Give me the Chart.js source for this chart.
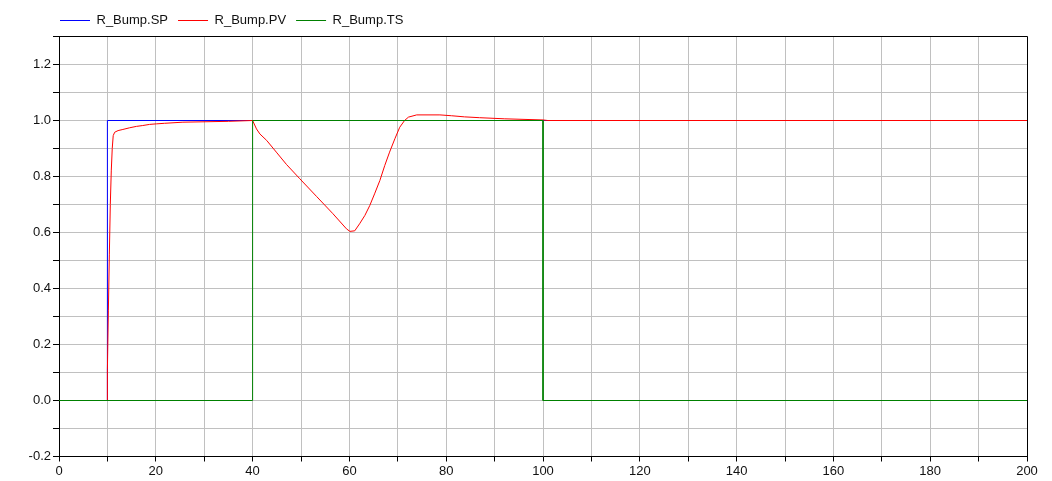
<!DOCTYPE html>
<html><head><meta charset="utf-8">
<script src="https://cdn.jsdelivr.net/npm/chart.js@4"></script>
<style>html,body{margin:0;padding:0;background:#fff;overflow:hidden}</style>
</head><body>
<canvas id="c" width="1052" height="481" style="display:block;width:1052px;height:481px"></canvas>
<script>
const seriesNames = ['R_Bump.SP', 'R_Bump.PV', 'R_Bump.TS'];
const seriesColors = ['#0000ff', '#ff0000', '#008000'];

const spTime  = [0, 10, 10, 200];
const spValue = [0, 0, 1, 1];

const pvTime  = [0, 10, 10, 10.2, 10.4, 10.6, 10.8, 11, 11.2, 11.5, 12.2, 13.2, 14.6, 16, 17.3, 18.7, 20.1, 21.8, 25.6, 35, 40,
                 40.8, 41.5, 42.9, 44.9, 47, 49.75, 53.2, 56.6, 59.4, 60.1, 61.1, 62.1, 63.2, 64.2, 65.2, 66.3, 67.3, 68.3, 69.4, 70.4,
                 71.4, 72.2, 73.9, 78.7, 81.1, 83.8, 86.9, 92.1, 100, 101, 200];
const pvValue = [0, 0, 0.11, 0.32, 0.52, 0.70, 0.82, 0.90, 0.946, 0.958, 0.964, 0.968, 0.974, 0.979, 0.982, 0.986, 0.988, 0.99, 0.994, 0.997, 1.0,
                 0.970, 0.952, 0.929, 0.887, 0.843, 0.792, 0.729, 0.667, 0.613, 0.604, 0.606, 0.631, 0.661, 0.696, 0.738, 0.786, 0.839, 0.887, 0.935, 0.976,
                 1.0, 1.012, 1.02, 1.02, 1.017, 1.013, 1.01, 1.006, 1.002, 1.0, 1.0];

const tsTime  = [0, 40, 40, 100, 100, 200];
const tsValue = [0, 0, 1, 1, 0, 0];

const xMin = 0, xMax = 200, xStep = 10, xLabelEvery = 20;
const yMin = -0.2, yMax = 1.3, yStep = 0.1, yLabelEvery = 0.2;

function pairs(t, v) { return t.map((x, i) => ({ x: x, y: v[i] })); }

const FONT = { family: '"Liberation Sans", Arial, sans-serif', size: 13 };
const TEXT = '#111111';
const GRID = '#c0c0c0';

function crisp(p) { return Math.round(p - 0.5) + 0.5; }

const frame = {
  id: 'frame',
  afterLayout(chart) {
    if (chart.legend) { chart.legend.left = 50; chart.legend.top = 4; }
  },
  afterDraw(chart) {
    const a = chart.chartArea, ctx = chart.ctx;
    ctx.save();
    ctx.strokeStyle = '#000';
    ctx.lineWidth = 1;
    ctx.beginPath();
    ctx.moveTo(crisp(a.left), crisp(a.top));
    ctx.lineTo(crisp(a.right), crisp(a.top));
    ctx.lineTo(crisp(a.right), crisp(a.bottom));
    ctx.stroke();
    ctx.restore();
  }
};

new Chart(document.getElementById('c'), {
  type: 'line',
  data: {
    datasets: [
      { label: seriesNames[0], data: pairs(spTime, spValue), borderColor: seriesColors[0], backgroundColor: seriesColors[0], order: 2 },
      { label: seriesNames[1], data: pairs(pvTime, pvValue), borderColor: seriesColors[1], backgroundColor: seriesColors[1], order: 1 },
      { label: seriesNames[2], data: pairs(tsTime, tsValue), borderColor: seriesColors[2], backgroundColor: seriesColors[2], order: 0 }
    ]
  },
  options: {
    responsive: false,
    devicePixelRatio: 1,
    animation: false,
    layout: { padding: { top: 3.5, right: 25, bottom: 0, left: 0 } },
    elements: {
      line: { borderWidth: 1, tension: 0, fill: false },
      point: { radius: 0, hoverRadius: 0 }
    },
    plugins: {
      tooltip: { enabled: false },
      legend: {
        position: 'top',
        align: 'start',
        maxHeight: 36,
        labels: {
          usePointStyle: true,
          pointStyle: 'line',
          pointStyleWidth: 30,
          padding: 10,
          color: TEXT,
          font: FONT,
          sort: (a, b) => a.datasetIndex - b.datasetIndex
        }
      }
    },
    scales: {
      x: {
        type: 'linear',
        min: xMin, max: xMax,
        grid: { color: GRID, tickColor: '#000', tickLength: 5, drawTicks: true },
        border: { color: '#000', width: 1 },
        ticks: {
          stepSize: xStep, color: TEXT, font: FONT, padding: 2, maxRotation: 0, autoSkip: false,
          callback: (v) => (Math.round(v) % xLabelEvery === 0 ? String(Math.round(v)) : '')
        },
        afterFit: (s) => { s.height = 24.5; }
      },
      y: {
        type: 'linear',
        min: yMin, max: yMax,
        grid: { color: GRID, tickColor: '#000', tickLength: 6, drawTicks: true },
        border: { color: '#000', width: 1 },
        ticks: {
          stepSize: yStep, color: TEXT, font: FONT, padding: 2, autoSkip: false,
          callback: (v) => {
            const k = Math.round(v / yStep);
            const m = Math.round(yLabelEvery / yStep);
            return (k % m === 0) ? (k * yStep).toFixed(1) : '';
          }
        },
        afterFit: (s) => { s.width = 59; }
      }
    }
  },
  plugins: [frame]
});
</script>
</body></html>
